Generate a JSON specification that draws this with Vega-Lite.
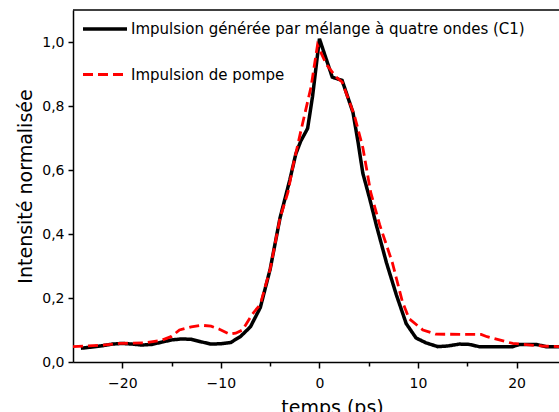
{
  "$schema": "https://vega.github.io/schema/vega-lite/v6.json",
  "width": 486,
  "height": 352,
  "autosize": {"type": "none"},
  "padding": {"left": 73, "top": 10, "right": 0, "bottom": 50},
  "background": "white",
  "config": {
    "view": {"stroke": null},
    "font": "DejaVu Sans",
    "axis": {
      "domainColor": "black",
      "domainWidth": 1.5,
      "tickColor": "black",
      "tickWidth": 1.5,
      "labelColor": "black",
      "labelFont": "DejaVu Sans",
      "labelFontSize": 14,
      "titleFont": "DejaVu Sans",
      "titleFontWeight": "normal",
      "titleColor": "black",
      "titleFontSize": 19,
      "grid": false
    }
  },
  "datasets": {
    "c1": [
      {"t": -24.2, "v": 0.043}, {"t": -23, "v": 0.047}, {"t": -22, "v": 0.051}, {"t": -21, "v": 0.056},
      {"t": -20, "v": 0.058}, {"t": -19, "v": 0.056}, {"t": -18, "v": 0.053}, {"t": -17, "v": 0.055},
      {"t": -16, "v": 0.062}, {"t": -15, "v": 0.069}, {"t": -14, "v": 0.072}, {"t": -13, "v": 0.071},
      {"t": -12, "v": 0.063}, {"t": -11, "v": 0.056}, {"t": -10, "v": 0.057}, {"t": -9, "v": 0.061},
      {"t": -8, "v": 0.08}, {"t": -7, "v": 0.11}, {"t": -6, "v": 0.17}, {"t": -5, "v": 0.29},
      {"t": -4, "v": 0.45}, {"t": -3, "v": 0.57}, {"t": -2.4, "v": 0.65}, {"t": -1.9, "v": 0.69},
      {"t": -1.2, "v": 0.73}, {"t": -0.7, "v": 0.83}, {"t": 0, "v": 1.01}, {"t": 1.3, "v": 0.89},
      {"t": 2.3, "v": 0.88}, {"t": 3.4, "v": 0.78}, {"t": 3.9, "v": 0.69}, {"t": 4.4, "v": 0.59},
      {"t": 5.1, "v": 0.51}, {"t": 5.75, "v": 0.43}, {"t": 6.8, "v": 0.31}, {"t": 7.8, "v": 0.21},
      {"t": 8.8, "v": 0.12}, {"t": 9.8, "v": 0.075}, {"t": 10.8, "v": 0.06}, {"t": 12, "v": 0.048},
      {"t": 13, "v": 0.05}, {"t": 14.2, "v": 0.056}, {"t": 15.2, "v": 0.055}, {"t": 16.2, "v": 0.048},
      {"t": 18, "v": 0.048}, {"t": 19.6, "v": 0.048}, {"t": 20.3, "v": 0.055}, {"t": 22, "v": 0.055},
      {"t": 23, "v": 0.048}, {"t": 24.3, "v": 0.048}
    ],
    "pompe": [
      {"t": -25, "v": 0.048}, {"t": -22.3, "v": 0.052}, {"t": -20.3, "v": 0.058}, {"t": -17.6, "v": 0.06},
      {"t": -16, "v": 0.068}, {"t": -15, "v": 0.08}, {"t": -14.2, "v": 0.1}, {"t": -13, "v": 0.11},
      {"t": -12, "v": 0.115}, {"t": -11, "v": 0.112}, {"t": -10.2, "v": 0.103}, {"t": -9.1, "v": 0.087},
      {"t": -8.5, "v": 0.09}, {"t": -7.8, "v": 0.1}, {"t": -6.8, "v": 0.15}, {"t": -6, "v": 0.18},
      {"t": -5, "v": 0.29}, {"t": -4, "v": 0.45}, {"t": -3.2, "v": 0.53}, {"t": -2.7, "v": 0.61},
      {"t": -1.9, "v": 0.72}, {"t": -0.85, "v": 0.86}, {"t": -0.2, "v": 0.99}, {"t": 0.7, "v": 0.93},
      {"t": 1.7, "v": 0.89}, {"t": 2.3, "v": 0.875}, {"t": 3.55, "v": 0.77}, {"t": 4.4, "v": 0.67},
      {"t": 5.2, "v": 0.53}, {"t": 6.1, "v": 0.43}, {"t": 7.4, "v": 0.31}, {"t": 8.4, "v": 0.19},
      {"t": 9.1, "v": 0.135}, {"t": 10.5, "v": 0.1}, {"t": 11.8, "v": 0.087}, {"t": 16.4, "v": 0.086},
      {"t": 17, "v": 0.079}, {"t": 19.6, "v": 0.058}, {"t": 22.6, "v": 0.05}, {"t": 24.3, "v": 0.048}
    ]
  },
  "layer": [
    {
      "data": {"values": [{}]},
      "mark": {"type": "rule", "color": "black", "strokeWidth": 1.5},
      "encoding": {
        "y": {"datum": 1.1, "type": "quantitative", "scale": {"domain": [0, 1.1], "nice": false, "zero": false}}
      }
    },
    {
      "data": {"name": "c1"},
      "mark": {"type": "line", "clip": true},
      "encoding": {
        "x": {"field": "t", "type": "quantitative"},
        "y": {"field": "v", "type": "quantitative"},
        "color": {"datum": "Impulsion générée par mélange à quatre ondes (C1)"},
        "strokeDash": {"datum": "Impulsion générée par mélange à quatre ondes (C1)"},
        "strokeWidth": {"datum": "Impulsion générée par mélange à quatre ondes (C1)"}
      }
    },
    {
      "data": {"name": "pompe"},
      "mark": {"type": "line", "clip": true},
      "encoding": {
        "x": {
          "field": "t", "type": "quantitative",
          "scale": {"domain": [-25, 24.3], "nice": false, "zero": false},
          "axis": {
            "title": "temps (ps)",
            "values": [-20, -15, -10, -5, 0, 5, 10, 15, 20],
            "labelExpr": "datum.value % 10 == 0 ? datum.label : ''",
            "tickSize": {"condition": {"test": "datum.value % 10 == 0", "value": 6}, "value": 4},
            "labelPadding": 8,
            "titlePadding": 8,
            "titleX": 259
          }
        },
        "y": {
          "field": "v", "type": "quantitative",
          "scale": {"domain": [0, 1.1], "nice": false, "zero": false},
          "axis": {
            "title": "Intensité normalisée",
            "values": [0, 0.1, 0.2, 0.3, 0.4, 0.5, 0.6, 0.7, 0.8, 0.9, 1.0],
            "labelExpr": "round(datum.value * 10) % 2 == 0 ? replace(format(datum.value, '.1f'), '.', ',') : ''",
            "tickSize": 5,
            "labelPadding": 4,
            "titlePadding": 6
          }
        },
        "color": {
          "datum": "Impulsion de pompe",
          "scale": {
            "domain": ["Impulsion générée par mélange à quatre ondes (C1)", "Impulsion de pompe"],
            "range": ["black", "#ff0000"]
          },
          "legend": {
            "title": null,
            "orient": "none",
            "legendX": 8,
            "legendY": -5,
            "padding": 0,
            "symbolType": "stroke",
            "symbolSize": 1936,
            "labelFont": "DejaVu Sans",
            "labelFontSize": 15,
            "labelColor": "black",
            "labelOffset": 2,
            "rowPadding": 14,
            "labelLimit": 600
          }
        },
        "strokeDash": {
          "datum": "Impulsion de pompe",
          "scale": {
            "domain": ["Impulsion générée par mélange à quatre ondes (C1)", "Impulsion de pompe"],
            "range": [[1, 0], [10, 5]]
          }
        },
        "strokeWidth": {
          "datum": "Impulsion de pompe",
          "scale": {
            "domain": ["Impulsion générée par mélange à quatre ondes (C1)", "Impulsion de pompe"],
            "range": [3.5, 2.8]
          }
        }
      }
    }
  ]
}
